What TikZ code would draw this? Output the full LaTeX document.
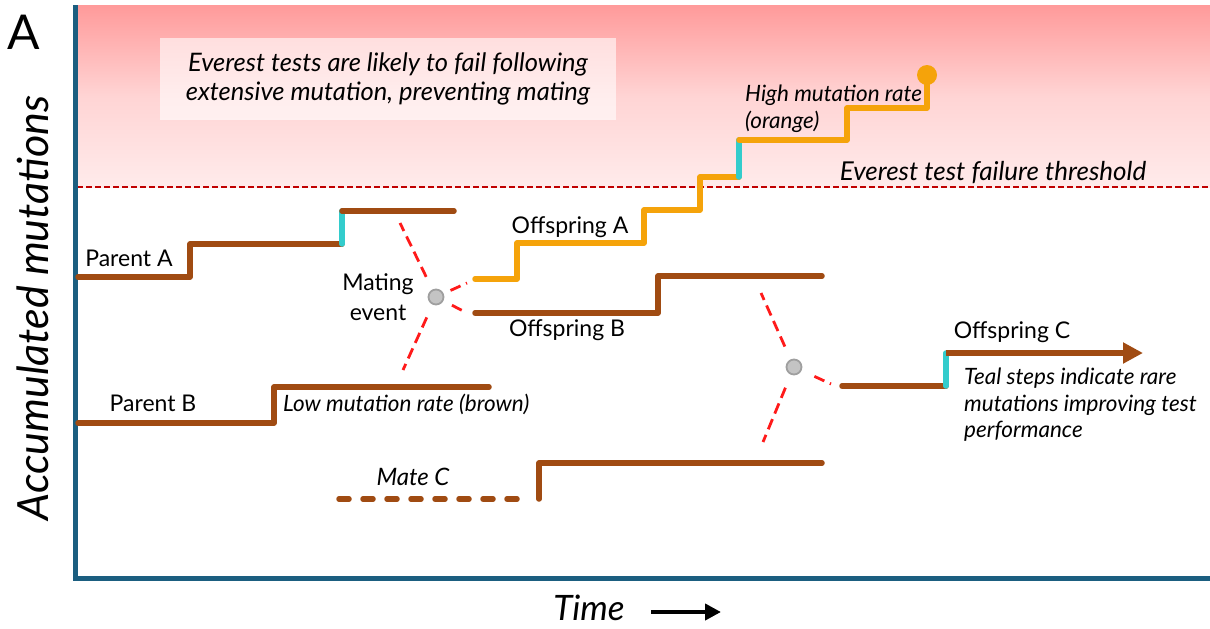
\documentclass[tikz,border=0pt]{standalone}
\usepackage{fontspec}
\setmainfont{Lato}
\usetikzlibrary{arrows.meta,positioning}
\definecolor{axisblue}{HTML}{1B5E80}
\definecolor{lowbrown}{HTML}{A04B12}
\definecolor{highorange}{HTML}{F5A30A}
\definecolor{rareteal}{HTML}{33CCCC}
\definecolor{matered}{HTML}{FF1A1A}
\definecolor{threshred}{HTML}{C00000}
\definecolor{pinktop}{HTML}{FF9A9A}
\definecolor{pinkmid}{HTML}{FFD4D4}
\definecolor{pinkbot}{HTML}{FFEBEB}
\definecolor{dotgray}{HTML}{C4C4C4}
\tikzset{
  every picture/.style={line join=round, line cap=round, >=Stealth},
  lowrate/.style={lowbrown, line width=5.5pt},
  highrate/.style={highorange, line width=5.5pt},
  rarestep/.style={rareteal, line width=5.5pt},
  matedash/.style={matered, line width=2.8pt, line cap=butt, dash pattern=on 11pt off 6pt},
  matedot/.style={circle, minimum size=15pt, inner sep=0pt, fill=dotgray, draw=gray!75, line width=1.8pt},
  lbl/.style={inner sep=0pt, font=\fontsize{23}{30}\selectfont},
  note/.style={inner sep=0pt, font=\fontsize{22.5}{26.5}\selectfont\itshape, align=left},
}

\begin{document}
\begin{tikzpicture}[x=1pt,y=-1pt]
\useasboundingbox (0,0) rectangle (1210,629);
\shade[top color=pinktop, bottom color=pinkbot, middle color=pinkmid] (77,5) rectangle (1210,187);
\node[fill=white, fill opacity=0.6, text opacity=1, minimum width=456pt, minimum height=82pt, inner sep=0pt,
  align=center, font=\fontsize{25.5}{29}\selectfont\itshape] (warnbox) at (388,79)
  {Everest tests are likely to fail following\\extensive mutation, preventing mating};
\draw[threshred, line width=1.5pt, line cap=butt, dash pattern=on 6pt off 3pt] (77,187) -- (1210,187);
\node[note, font=\fontsize{26}{28}\selectfont\itshape] (threshlbl) at (993,173) {Everest test failure threshold};

\draw[axisblue, line width=5pt, line join=miter, line cap=butt] (75,5) -- (75,578) -- (1210,578);

\draw[lowrate] (78,277) -| (190,244) -- (342,244);
\draw[rarestep] (342,244) -- (342,211);
\draw[lowrate] (342,211) -- (454,211);
\draw[lowrate] (78,423) -| (274,387) -- (489,387);
\draw[lowrate, dash pattern=on 10pt off 14pt] (339,499) -- (528,499);
\draw[lowrate] (539,499) |- (822,463);

\draw[highrate] (475,279) -| (517,243) -| (644,210) -| (700,177) -- (739,177);
\draw[rarestep] (739,177) -- (739,140);
\draw[highrate] (739,140) -| (847,108) -| (927,80);
\node[circle, fill=highorange, minimum size=20pt, inner sep=0pt] (topdot) at (927,75) {};
\draw[lowrate] (475,313) -| (658,276) -- (822,276);
\draw[lowrate] (842,386) -- (946,386);
\draw[rarestep] (946,386) -- (946,353);
\draw[lowrate, line cap=butt, -{Triangle[length=20pt,width=20pt]}] (946,353) -- (1143,353);

\node[matedot] (mateAB) at (436,297) {};
\node[matedot] (mateC) at (794,367) {};
\coordinate (abUp) at (400,223);
\coordinate (abLow) at (403,370);
\coordinate (abOffA) at (467,283);
\coordinate (abOffB) at (467,313);
\coordinate (cUp) at (761,293);
\coordinate (cLow) at (763,442);
\coordinate (cOff) at (831,384);
\foreach \e/\s in {abUp/14, abLow/14, abOffA/7.5, abOffB/9.5}
  \draw[matedash, shorten <=\s pt] (mateAB) -- (\e);
\foreach \e/\s in {cUp/14, cLow/14, cOff/14}
  \draw[matedash, shorten <=\s pt] (mateC) -- (\e);

\node[lbl] (parentA) at (129,258) {Parent A};
\node[lbl] (parentB) at (153,403) {Parent B};
\node[lbl, align=center] (mating) at (378,297) {Mating\\event};
\node[lbl] (offA) at (570,227) {Offspring A};
\node[lbl] (offB) at (567,330) {Offspring B};
\node[lbl] (offC) at (1012,332) {Offspring C};
\node[note, anchor=west] (lowlbl) at (283,404) {Low mutation rate (brown)};
\node[note, anchor=west, font=\fontsize{22.5}{27}\selectfont\itshape] (highlbl) at (745,109) {High mutation rate\\(orange)};
\node[note, anchor=west] (teallbl) at (964,405) {Teal steps indicate rare\\mutations improving test\\performance};
\node[note, font=\fontsize{24}{26}\selectfont\itshape] (mateClbl) at (413,477) {Mate C};

\node[inner sep=0pt, font=\fontsize{48}{50}\selectfont] (panel) at (24,32) {A};
\node[inner sep=0pt, rotate=90, font=\fontsize{43}{45}\selectfont\itshape] (ylbl) at (33,308) {Accumulated mutations};
\node[inner sep=0pt, font=\fontsize{35}{36}\selectfont\itshape] (timelbl) at (589,608) {Time};
\coordinate (timeS) at (651,612);
\coordinate (timeE) at (721,612);
\draw[line width=4pt, line cap=butt, -{Triangle[length=16pt,width=16pt]}] (timeS) -- (timeE);
\end{tikzpicture}
\end{document}
